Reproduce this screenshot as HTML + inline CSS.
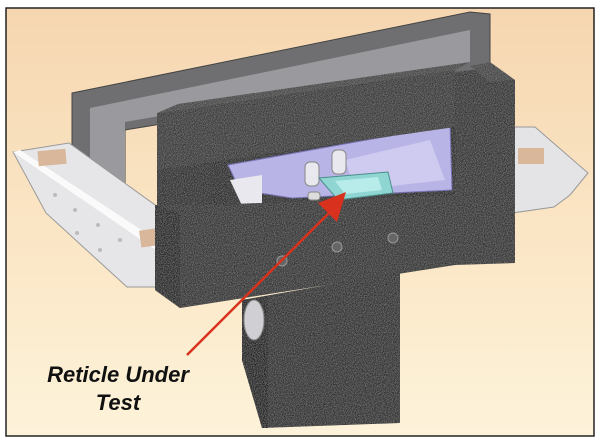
<!DOCTYPE html>
<html><head><style>
html,body{margin:0;padding:0;background:#fff;}
svg{display:block;}
</style></head><body>
<svg width="600" height="442" viewBox="0 0 600 442" xmlns="http://www.w3.org/2000/svg">
<defs>
<linearGradient id="bg" x1="0" y1="0" x2="0" y2="1">
<stop offset="0" stop-color="#f6d6b0"/><stop offset="0.6" stop-color="#fbe8c8"/><stop offset="1" stop-color="#fdf3da"/>
</linearGradient>
<filter id="grain" x="0" y="0" width="100%" height="100%">
<feTurbulence type="fractalNoise" baseFrequency="1.1" numOctaves="1" result="n"/>
<feColorMatrix in="n" type="matrix" values="0 0 0 0 0.45  0 0 0 0 0.45  0 0 0 0 0.45  0 0 0 0.9 -0.35" result="m"/>
<feComposite in="m" in2="SourceGraphic" operator="in" result="c"/>
<feMerge><feMergeNode in="SourceGraphic"/><feMergeNode in="c"/></feMerge>
</filter>
</defs>
<rect x="0" y="0" width="600" height="442" fill="#fff"/>
<rect x="6" y="8" width="588" height="428" fill="url(#bg)" stroke="#222" stroke-width="1.5"/>
<!-- back gray frame -->
<polygon points="72,93 470,12 490,14 490,70 125,130 125,190 72,190" fill="#6f6f72" stroke="#444" stroke-width="1"/>
<polygon points="90,108 470,30 470,62 125,122 125,190 90,190" fill="#9a9a9e"/>
<!-- right wing -->
<polygon points="512,127 535,127 588,173 570,195 554,207 512,213" fill="#e4e4e6" stroke="#999"/>
<rect x="518" y="148" width="26" height="16" fill="#d8b79a"/>
<!-- left wing -->
<polygon points="13,152 69,143 215,248 210,262 169,287 127,287 46,213" fill="#e6e6e8" stroke="#999"/>
<polygon points="13,152 20,150 190,262 182,268" fill="#fafafa"/>
<rect x="38" y="150" width="28" height="15" fill="#d8b79a" transform="rotate(-5 52 157)"/>
<rect x="140" y="228" width="38" height="17" fill="#d8b79a" transform="rotate(-8 159 236)"/>
<g fill="#bbb"><circle cx="55" cy="195" r="2"/><circle cx="75" cy="210" r="2"/><circle cx="98" cy="225" r="2"/><circle cx="120" cy="240" r="2"/><circle cx="77" cy="233" r="2"/><circle cx="100" cy="250" r="2"/></g>
<!-- dark back interior -->
<g filter="url(#grain)">
<polygon points="157,160 455,120 455,200 157,215" fill="#2e2e2e"/>
</g>
<!-- violet tray -->
<polygon points="228,165 450,125 452,190 292,198 240,190" fill="#b8b4e6" stroke="#7a76b8"/>
<polygon points="345,160 430,140 445,180 355,190" fill="#cfcaf0"/>
<polygon points="230,180 262,175 262,212 245,212" fill="#e8e8ee"/>
<rect x="305" y="162" width="14" height="24" rx="5" fill="#e8e8ee" stroke="#888"/>
<rect x="332" y="150" width="14" height="24" rx="5" fill="#e8e8ee" stroke="#888"/>
<rect x="308" y="192" width="12" height="8" rx="3" fill="#ddd" stroke="#888"/>
<!-- cyan reticle -->
<polygon points="319,178 388,172 393,193 338,200" fill="#8fd5d2" stroke="#4a8f8c"/>
<polygon points="335,181 378,177 382,190 345,194" fill="#b8ecea"/>
<g filter="url(#grain)">
<!-- left support under beam -->
<polygon points="157,165 210,160 210,215 157,220" fill="#333"/>
<!-- right column -->
<polygon points="455,72 490,68 515,80 515,263 455,265" fill="#383838"/>
<polygon points="470,66 490,62 515,80 490,82" fill="#4a4a4a"/>
<!-- main horizontal block -->
<polygon points="155,205 210,205 455,195 455,265 180,308 155,290" fill="#373737"/>
<polygon points="155,205 180,213 180,308 155,290" fill="#2a2a2a"/>
<!-- lower block -->
<polygon points="242,300 400,272 400,423 262,428 242,360" fill="#363636"/>
<polygon points="242,300 268,296 268,428 262,428 242,360" fill="#282828"/>
<!-- top beam -->
<polygon points="157,113 455,70 455,127 157,170" fill="#3c3c3c"/>
<polygon points="157,113 178,104 470,62 455,70" fill="#4c4c4c"/>
</g>
<!-- holes -->
<g fill="#666" stroke="#999"><circle cx="282" cy="261" r="5"/><circle cx="337" cy="247" r="5"/><circle cx="393" cy="238" r="5"/></g>
<ellipse cx="254" cy="320" rx="10" ry="20" fill="#cfcfd4" stroke="#888"/>
<!-- red arrow -->
<line x1="187" y1="355" x2="330" y2="212" stroke="#d8321e" stroke-width="2.5"/>
<polygon points="346,192 318,203 337,222" fill="#d8321e"/>
<text x="118" y="382" text-anchor="middle" font-family="Liberation Sans, sans-serif" font-size="22" font-weight="bold" font-style="italic" fill="#111">Reticle Under</text>
<text x="118" y="410" text-anchor="middle" font-family="Liberation Sans, sans-serif" font-size="22" font-weight="bold" font-style="italic" fill="#111">Test</text>
</svg>
</body></html>
